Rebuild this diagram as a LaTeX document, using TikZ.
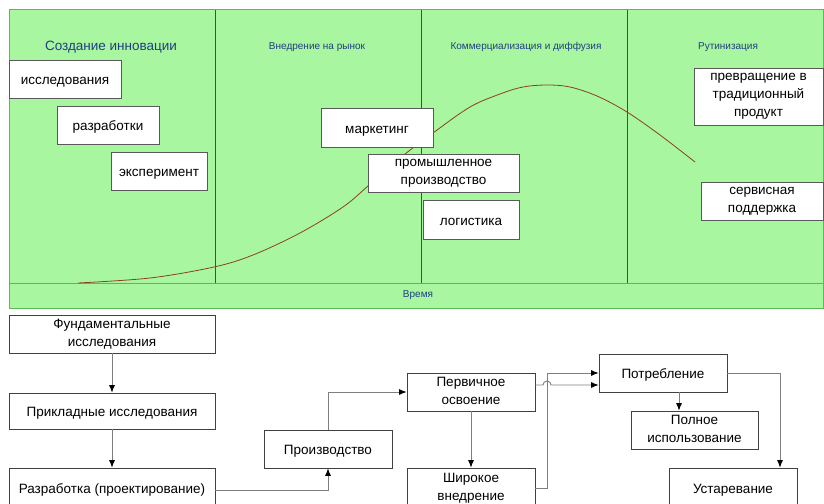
\documentclass[tikz,border=0pt]{standalone}
\usepackage{fontspec}
\setmainfont{Liberation Sans}
\usetikzlibrary{arrows.meta,calc}
\definecolor{bggreen}{HTML}{A8F7A0}
\definecolor{edgegreen}{HTML}{5DB85D}
\definecolor{divblue}{HTML}{2E4C8E}
\definecolor{headblue}{HTML}{1F3F80}
\definecolor{curvecol}{HTML}{8B3F22}
\definecolor{linegray}{HTML}{7F7F7F}
\tikzset{
  boxtext/.style={execute at begin node={\rule{0pt}{14pt}}, execute at end node={\rule[-2pt]{0pt}{2pt}}},
  topbox/.style={draw=black!65, fill=white, line width=0.8pt, inner sep=0pt, align=center,
    font=\fontsize{13.5}{18}\selectfont, boxtext},
  flowbox/.style={draw=black!75, fill=white, line width=0.7pt, inner sep=0pt, align=center,
    font=\fontsize{13.5}{18}\selectfont, boxtext},
  head/.style={text=headblue, inner sep=0pt, font=\fontsize{10}{12}\selectfont},
  arr/.style={draw=linegray, line width=0.9pt, -{Latex[length=7.5pt,width=6pt,color=black]}},
  divider/.style={draw=divblue, line width=0.8pt},
}
\begin{document}
\begin{tikzpicture}[x=1pt,y=-1pt]
\useasboundingbox (0,0) rectangle (824,503);
\begin{scope}
\clip (0,0) rectangle (824,503);
% background panel
\fill[bggreen] (9,10) rectangle (823,308);
\draw[divider] (215,10) -- (215,283);
\draw[divider] (421,10) -- (421,283);
\draw[divider] (627,10) -- (627,283);
\draw[edgegreen, line width=1pt] (9,283) -- (823,283);
\draw[edgegreen, line width=1pt] (9,10) rectangle (823,308);
% headers
\node[head, font=\fontsize{13.5}{16}\selectfont] (h1) at (111,47) {Создание инновации};
\node[head] (h2) at (317,47) {Внедрение на рынок};
\node[head] (h3) at (526,47) {Коммерциализация и диффузия};
\node[head] (h4) at (728,47) {Рутинизация};
\node[head] (time) at (418,295) {Время};
% curve
\draw[curvecol, line width=0.8pt] plot[smooth, tension=0.55] coordinates
  {(78,283) (150,278) (214,267) (253,255) (300,233) (343,207) (368,186) (400,158) (433,133) (470,107) (500,94) (523,87) (547,85) (570,87) (597,96) (627,112) (660,135) (695,162)};
% top boxes
\node[topbox, minimum width=112pt, minimum height=38pt] (iss) at (65,79) {исследования};
\node[topbox, minimum width=102pt, minimum height=38pt] (razrab) at (108,125) {разработки};
\node[topbox, minimum width=96pt, minimum height=38pt] (eksp) at (159,171) {эксперимент};
\node[topbox, minimum width=112pt, minimum height=39pt] (mark) at (377,127.5) {маркетинг};
\node[topbox, minimum width=151pt, minimum height=38pt] (prom) at (443.5,173) {промышленное\\производство};
\node[topbox, minimum width=96pt, minimum height=39pt] (logi) at (471,219.5) {логистика};
\node[topbox, minimum width=129pt, minimum height=57pt] (prev) at (758.5,96.5) {превращение в\\традиционный\\продукт};
\node[topbox, minimum width=122pt, minimum height=38pt] (serv) at (762,201) {сервисная\\поддержка};
% flow boxes
\node[flowbox, minimum width=206pt, minimum height=38pt] (fund) at (112,334) {Фундаментальные\\исследования};
\node[flowbox, minimum width=206pt, minimum height=36pt] (prikl) at (112,411) {Прикладные исследования};
\node[flowbox, minimum width=206pt, minimum height=40pt] (razr) at (112,488) {Разработка (проектирование)};
\node[flowbox, minimum width=128pt, minimum height=38pt] (proizv) at (328,449) {Производство};
\node[flowbox, minimum width=128pt, minimum height=38pt] (perv) at (471,392) {Первичное\\освоение};
\node[flowbox, minimum width=128pt, minimum height=40pt] (shir) at (471,488) {Широкое\\внедрение};
\node[flowbox, minimum width=128pt, minimum height=38pt] (potr) at (663,373) {Потребление};
\node[flowbox, minimum width=127pt, minimum height=38pt] (poln) at (694.5,430) {Полное\\использование};
\node[flowbox, minimum width=128pt, minimum height=40pt] (ust) at (733,488) {Устаревание};
% connectors
\coordinate (hx) at (547,0);
\draw[arr] (fund) -- (prikl);
\draw[arr] (prikl) -- (razr);
\draw[arr] ([yshift=-2pt]razr.east) -| (proizv.south);
\draw[arr] (proizv.north) |- (perv.west);
\draw[arr] (perv) -- (shir);
\draw[arr] (shir.east) -| (hx |- potr.west) -- (potr.west);
\coordinate (p1) at ([yshift=7pt]perv.east);
\draw[arr] (p1) -- ([xshift=-4pt]hx |- p1) arc (180:0:4pt) -- ([yshift=-12pt]potr.west);
\draw[arr] ([xshift=16pt]potr.south) -- ([xshift=16pt]potr.south |- poln.north);
\draw[arr] (potr.east) -| ([xshift=47pt]ust.north);
\end{scope}
\end{tikzpicture}
\end{document}
